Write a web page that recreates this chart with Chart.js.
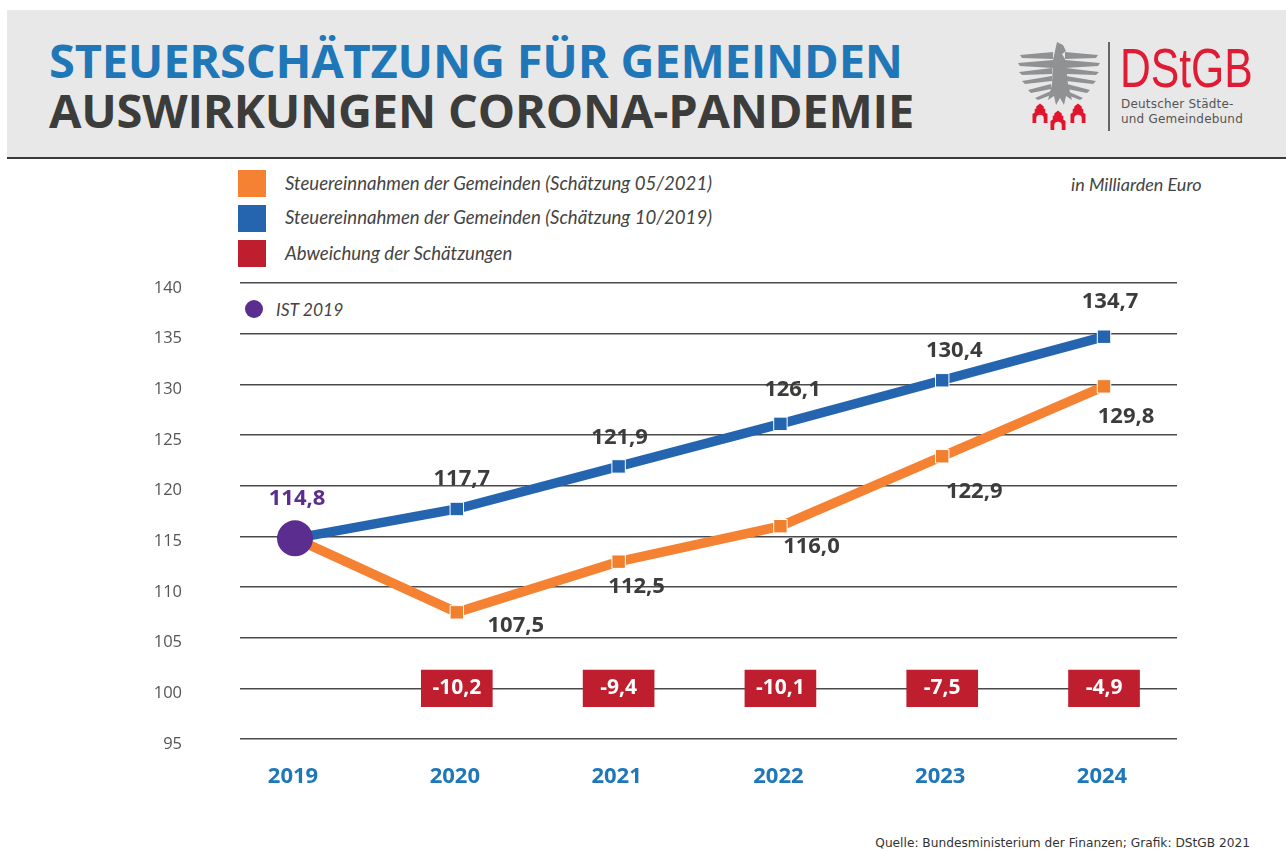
<!DOCTYPE html>
<html lang="de"><head><meta charset="utf-8"><title>Steuerschätzung für Gemeinden</title>
<script src="https://cdn.jsdelivr.net/npm/chart.js@4"></script>
<style>
html,body{margin:0;padding:0;background:#fff;width:1286px;height:850px;overflow:hidden}
#wrap{position:relative;width:1286px;height:850px}
#c{position:absolute;left:0;top:0}
.abs{position:absolute;white-space:nowrap}
#head{left:7px;top:10px;width:1279px;height:147px;background:#e8e8e8;border-bottom:2px solid #3a3a3a}
.t{font-family:"Open Sans",sans-serif;font-weight:700;font-size:47px;line-height:50px;letter-spacing:-.2px}
.lg{font-family:Lato,sans-serif;font-style:italic;font-size:18.6px;line-height:20px;color:#444}
.sw{position:absolute;left:238px;width:28px;height:27px}
</style></head><body><div id="wrap">
<div id="head" class="abs"></div>
<div class="abs t" style="left:49px;top:35px;color:#1f77b8">STEUERSCHÄTZUNG FÜR GEMEINDEN</div>
<div class="abs t" style="left:49px;top:85px;color:#3c3c3b">AUSWIRKUNGEN CORONA-PANDEMIE</div>
<svg class="abs" style="left:1015px;top:38px" width="90" height="96" viewBox="0 0 90 96">
<g fill="#8f9193"><path d="M42 4l6 3 3 6-4 3 3 5 3 25 4 16-6-4-2 9-4-7-4 7-2-9-6 4 4-16 1-24z"/>
<path d="M38 14L5 17l2 3 31 1zM38 22L3 25l2 3 33 2zM37 30L4 34l3 3 30-1zM37 38L7 43l3 3 27-3zM36 46L13 52l3 3 20-4zM36 53L20 60l3 2 13-5z"/>
<path d="M50 14l33 3-2 3-31 1zM50 22l35 3-2 3-33 2zM51 30l33 4-3 3-30-1zM51 38l30 5-3 3-27-3zM52 46l23 6-3 3-20-4zM52 53l16 7-3 2-13-5z"/></g>
<g fill="#e3122d">
<path d="M15 90V78l3-2v-5l2 0v-3l5-4 5 4v3l2 0v5l3 2v12h-5v-6a5 5 0 0 0-10 0v6z" transform="translate(6.25 17.5) scale(.75)"/>
<path d="M15 90V78l3-2v-5l2 0v-3l5-4 5 4v3l2 0v5l3 2v12h-5v-6a5 5 0 0 0-10 0v6z" transform="translate(24.25 24.5) scale(.75)"/>
<path d="M15 90V78l3-2v-5l2 0v-3l5-4 5 4v3l2 0v5l3 2v12h-5v-6a5 5 0 0 0-10 0v6z" transform="translate(44.25 17.5) scale(.75)"/></g></svg>
<div class="abs" style="left:1108px;top:42px;width:2px;height:89px;background:#666"></div>
<div class="abs" style="left:1120px;top:37px;font:400 55px/62px 'Liberation Sans',sans-serif;color:#e01b34;transform:scaleX(.775);transform-origin:left top">DStGB</div>
<div class="abs" style="left:1121px;top:97px;font:400 12px/14.5px 'DejaVu Sans',sans-serif;color:#555;letter-spacing:.2px">Deutscher Städte-<br>und Gemeindebund</div>
<div class="sw" style="top:170px;background:#f58233"></div>
<div class="abs lg" style="left:285px;top:173px">Steuereinnahmen der Gemeinden (Schätzung 05/2021)</div>
<div class="sw" style="top:205px;background:#2565b0"></div>
<div class="abs lg" style="left:285px;top:207px">Steuereinnahmen der Gemeinden (Schätzung 10/2019)</div>
<div class="sw" style="top:240px;background:#be1e2d"></div>
<div class="abs lg" style="left:285px;top:243px">Abweichung der Schätzungen</div>
<div class="abs lg" style="left:1071px;top:174px;font-size:18px">in Milliarden Euro</div>
<div class="abs" style="left:245px;top:300px;width:18px;height:18px;border-radius:50%;background:#5b2d8e"></div>
<div class="abs lg" style="left:276px;top:300px;font-size:17.5px">IST 2019</div>
<div class="abs" style="right:36px;top:836px;font:400 12.2px/14px 'DejaVu Sans',sans-serif;color:#333">Quelle: Bundesministerium der Finanzen; Grafik: DStGB 2021</div>
<canvas id="c" width="1286" height="850"></canvas>
</div>
<script>
const categories = ["2019","2020","2021","2022","2023","2024"];
const yTicks = [95,100,105,110,115,120,125,130,135,140];
const ist2019 = [114.8];
const schaetzung2021 = [114.8,107.5,112.5,116.0,122.9,129.8];
const schaetzung2019 = [114.8,117.7,121.9,126.1,130.4,134.7];
const abweichung = [null,-10.2,-9.4,-10.1,-7.5,-4.9];

const fmt = v => v.toFixed(1).replace('.',',');
const toXY = arr => arr.map((y,x)=>({x,y}));
const blueOffsets = [null,[5,-30],[1,-29],[12,-34],[12,-30],[6,-35]];
const orangeOffsets = [null,[59,13],[18,25],[31,21],[32,35],[22,30]];

const labelPlugin = {
  id:'valueLabels',
  afterDatasetsDraw(chart){
    const {ctx,scales:{x,y}} = chart;
    ctx.save();
    ctx.textAlign='center'; ctx.textBaseline='middle';
    ctx.font='700 22px "Open Sans",sans-serif';
    ctx.fillStyle='#3c3c3b';
    schaetzung2019.forEach((v,i)=>{ if(i) ctx.fillText(fmt(v),x.getPixelForValue(i)+blueOffsets[i][0],y.getPixelForValue(v)+blueOffsets[i][1]); });
    schaetzung2021.forEach((v,i)=>{ if(i) ctx.fillText(fmt(v),x.getPixelForValue(i)+orangeOffsets[i][0],y.getPixelForValue(v)+orangeOffsets[i][1]); });
    ctx.fillStyle='#5b2d8e';
    ctx.fillText(fmt(ist2019[0]),x.getPixelForValue(0)+2,y.getPixelForValue(ist2019[0])-40);
    ctx.fillStyle='#fff';
    ctx.font='700 21px "Open Sans",sans-serif';
    abweichung.forEach((v,i)=>{ if(v!==null) ctx.fillText(fmt(v),x.getPixelForValue(i),y.getPixelForValue(100)); });
    ctx.restore();
  }
};

new Chart(document.getElementById('c'),{
  data:{datasets:[
    {type:'line',label:'IST 2019',data:toXY(ist2019),order:1,showLine:false,pointRadius:18,pointHoverRadius:18,
     pointBackgroundColor:'#5b2d8e',pointBorderWidth:0},
    {type:'line',label:'Steuereinnahmen der Gemeinden (Schätzung 10/2019)',data:toXY(schaetzung2019),order:2,
     borderColor:'#2565b0',borderWidth:9.5,tension:0,pointStyle:'rect',pointRadius:9.5,pointBackgroundColor:'#2565b0',pointBorderColor:'#fff',pointBorderWidth:1},
    {type:'line',label:'Steuereinnahmen der Gemeinden (Schätzung 05/2021)',data:toXY(schaetzung2021),order:3,
     borderColor:'#f58233',borderWidth:9.5,tension:0,pointStyle:'rect',pointRadius:9.5,pointBackgroundColor:'#f07f2e',pointBorderColor:'#fff',pointBorderWidth:1},
    {type:'bar',label:'Abweichung der Schätzungen',order:4,
     data:abweichung.map((v,i)=>v===null?null:{x:i,y:[98.2,101.8]}).filter(Boolean),
     backgroundColor:'#be1e2d',barThickness:71,borderWidth:0}
  ]},
  options:{
    responsive:false,animation:false,
    layout:{padding:{left:0,right:109,top:283,bottom:0}},
    plugins:{legend:{display:false},tooltip:{enabled:false}},
    scales:{
      x:{type:'linear',offset:false,min:-0.34,max:5.451,
         afterBuildTicks(s){s.ticks=categories.map((_,i)=>({value:i}));},
         afterFit(s){s.height=111;},
         grid:{display:false},border:{display:false},
         ticks:{autoSkip:false,maxRotation:0,padding:17,labelOffset:-2,color:'#1f77b8',font:{family:'"Open Sans",sans-serif',weight:'700',size:22},
                callback:v=>categories[v]}},
      y:{type:'linear',min:95,max:140,
         afterBuildTicks(s){s.ticks=yTicks.map(value=>({value}));},
         afterFit(s){s.width=240;},
         grid:{color:'#4a4a4a',lineWidth:1.4,drawTicks:false},border:{display:false},
         ticks:{padding:58,labelOffset:5,color:'#555',font:{family:'"Open Sans",sans-serif',size:16.5}}}
    }
  },
  plugins:[labelPlugin]
});
</script></body></html>
